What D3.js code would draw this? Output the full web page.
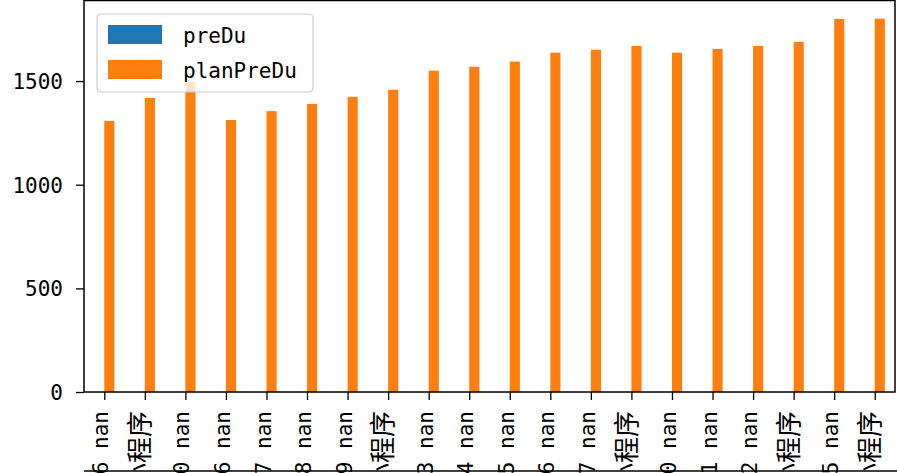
<!DOCTYPE html>
<html>
<head>
<meta charset="utf-8">
<script src="https://cdn.jsdelivr.net/npm/d3@7"></script>
<style>
  body { margin: 0; background: #fff; }
  svg { display: block; }
  text { font-family: "DejaVu Sans Mono", "Noto Sans CJK SC", monospace; fill: #000; }
</style>
</head>
<body>
<svg width="897" height="473"></svg>
<script>
const categories = [
  "2023-01-06 nan", "微信小程序", "2023-01-10 nan", "2023-01-16 nan", "2023-01-17 nan",
  "2023-01-18 nan", "2023-01-19 nan", "微信小程序", "2023-01-23 nan", "2023-01-24 nan",
  "2023-01-25 nan", "2023-01-26 nan", "2023-01-27 nan", "微信小程序", "2023-01-30 nan",
  "2023-01-31 nan", "2023-02-02 nan", "微信小程序", "2023-02-05 nan", "微信小程序"
]
const preDu = categories.map(() => null)
const planPreDu = [
  1308, 1419, 1497, 1312, 1355, 1390, 1424, 1458, 1550, 1569,
  1594, 1637, 1651, 1669, 1637, 1655, 1669, 1689, 1800, 1801
]
const yTicks = [0, 500, 1000, 1500]
const seriesNames = ["preDu", "planPreDu"]
const seriesColors = ["#1f77b4", "#ff7f0e"]

const svg = d3.select("svg")
const [plotLeft, plotRight, plotTop, plotBottom] = [84, 895, 0, 392]

const x = d3.scaleLinear().domain([-0.5, categories.length - 0.5]).range([plotLeft, plotRight])
const y = d3.scaleLinear().domain([0, d3.max(planPreDu) * 1.05]).range([plotBottom, plotTop])
const barW = 0.25

// bars: preDu (all missing) left of tick, planPreDu right of tick
const series = [preDu, planPreDu]
series.forEach((vals, si) => {
  svg.append("g")
    .selectAll("rect")
    .data(vals.map((v, i) => ({ v, i })).filter((d) => d.v != null))
    .enter()
    .append("rect")
    .attr("x", (d) => x(d.i + (si - 1) * barW))
    .attr("width", (d) => x(d.i + si * barW) - x(d.i + (si - 1) * barW))
    .attr("y", (d) => y(d.v))
    .attr("height", (d) => y(0) - y(d.v))
    .attr("fill", seriesColors[si])
})

// y axis
const yAxis = svg.append("g")
  .attr("transform", `translate(${plotLeft},0)`)
  .call(d3.axisLeft(y).tickValues(yTicks).tickFormat(d3.format("d")).tickSize(8).tickPadding(13))
yAxis.select(".domain").remove()
yAxis.selectAll("line").attr("stroke", "#000").attr("stroke-width", 1.3)
yAxis.selectAll("text").style("font-size", "21px").attr("dy", "0.36em")

// x axis
const xAxis = svg.append("g")
  .attr("transform", `translate(0,${plotBottom})`)
  .call(d3.axisBottom(x).tickValues(d3.range(categories.length)).tickSize(8))
xAxis.select(".domain").remove()
xAxis.selectAll("line").attr("stroke", "#000").attr("stroke-width", 1.3)
xAxis.selectAll("text")
  .text(null)
  .attr("transform", "rotate(-90)")
  .attr("x", -19)
  .attr("y", 0)
  .attr("dy", "0.36em")
  .attr("text-anchor", "end")
  .each(function (d) {
    const t = d3.select(this)
    const label = categories[d]
    const parts = label.match(/[\u4e00-\u9fff]+|[^\u4e00-\u9fff]+/g)
    parts.forEach((p) => {
      t.append("tspan")
        .style("font-size", /[\u4e00-\u9fff]/.test(p) ? "26px" : "21px")
        .text(p)
    })
  })

// spines
svg.append("rect")
  .attr("x", plotLeft).attr("y", plotTop + 0.5)
  .attr("width", plotRight - plotLeft).attr("height", plotBottom - plotTop - 0.5)
  .attr("fill", "none").attr("stroke", "#000").attr("stroke-width", 1.5)

// top edge of the next panel, cut off at the bottom
svg.append("line")
  .attr("x1", plotLeft).attr("x2", plotRight + 2)
  .attr("y1", 471).attr("y2", 471)
  .attr("stroke", "#000").attr("stroke-width", 1.5)

// legend
const legend = svg.append("g").attr("transform", "translate(97,14)")
legend.append("rect")
  .attr("width", 216).attr("height", 78)
  .attr("rx", 4).attr("ry", 4)
  .attr("fill", "#fff").attr("fill-opacity", 0.8)
  .attr("stroke", "#cccccc").attr("stroke-width", 1.2)
seriesNames.forEach((name, i) => {
  const row = legend.append("g").attr("transform", `translate(0,${11 + i * 35})`)
  row.append("rect")
    .attr("x", 11).attr("width", 54).attr("height", 19)
    .attr("fill", seriesColors[i])
  row.append("text")
    .attr("x", 86).attr("y", 10).attr("dy", "0.36em")
    .style("font-size", "21px")
    .text(name)
})
</script>
</body>
</html>
